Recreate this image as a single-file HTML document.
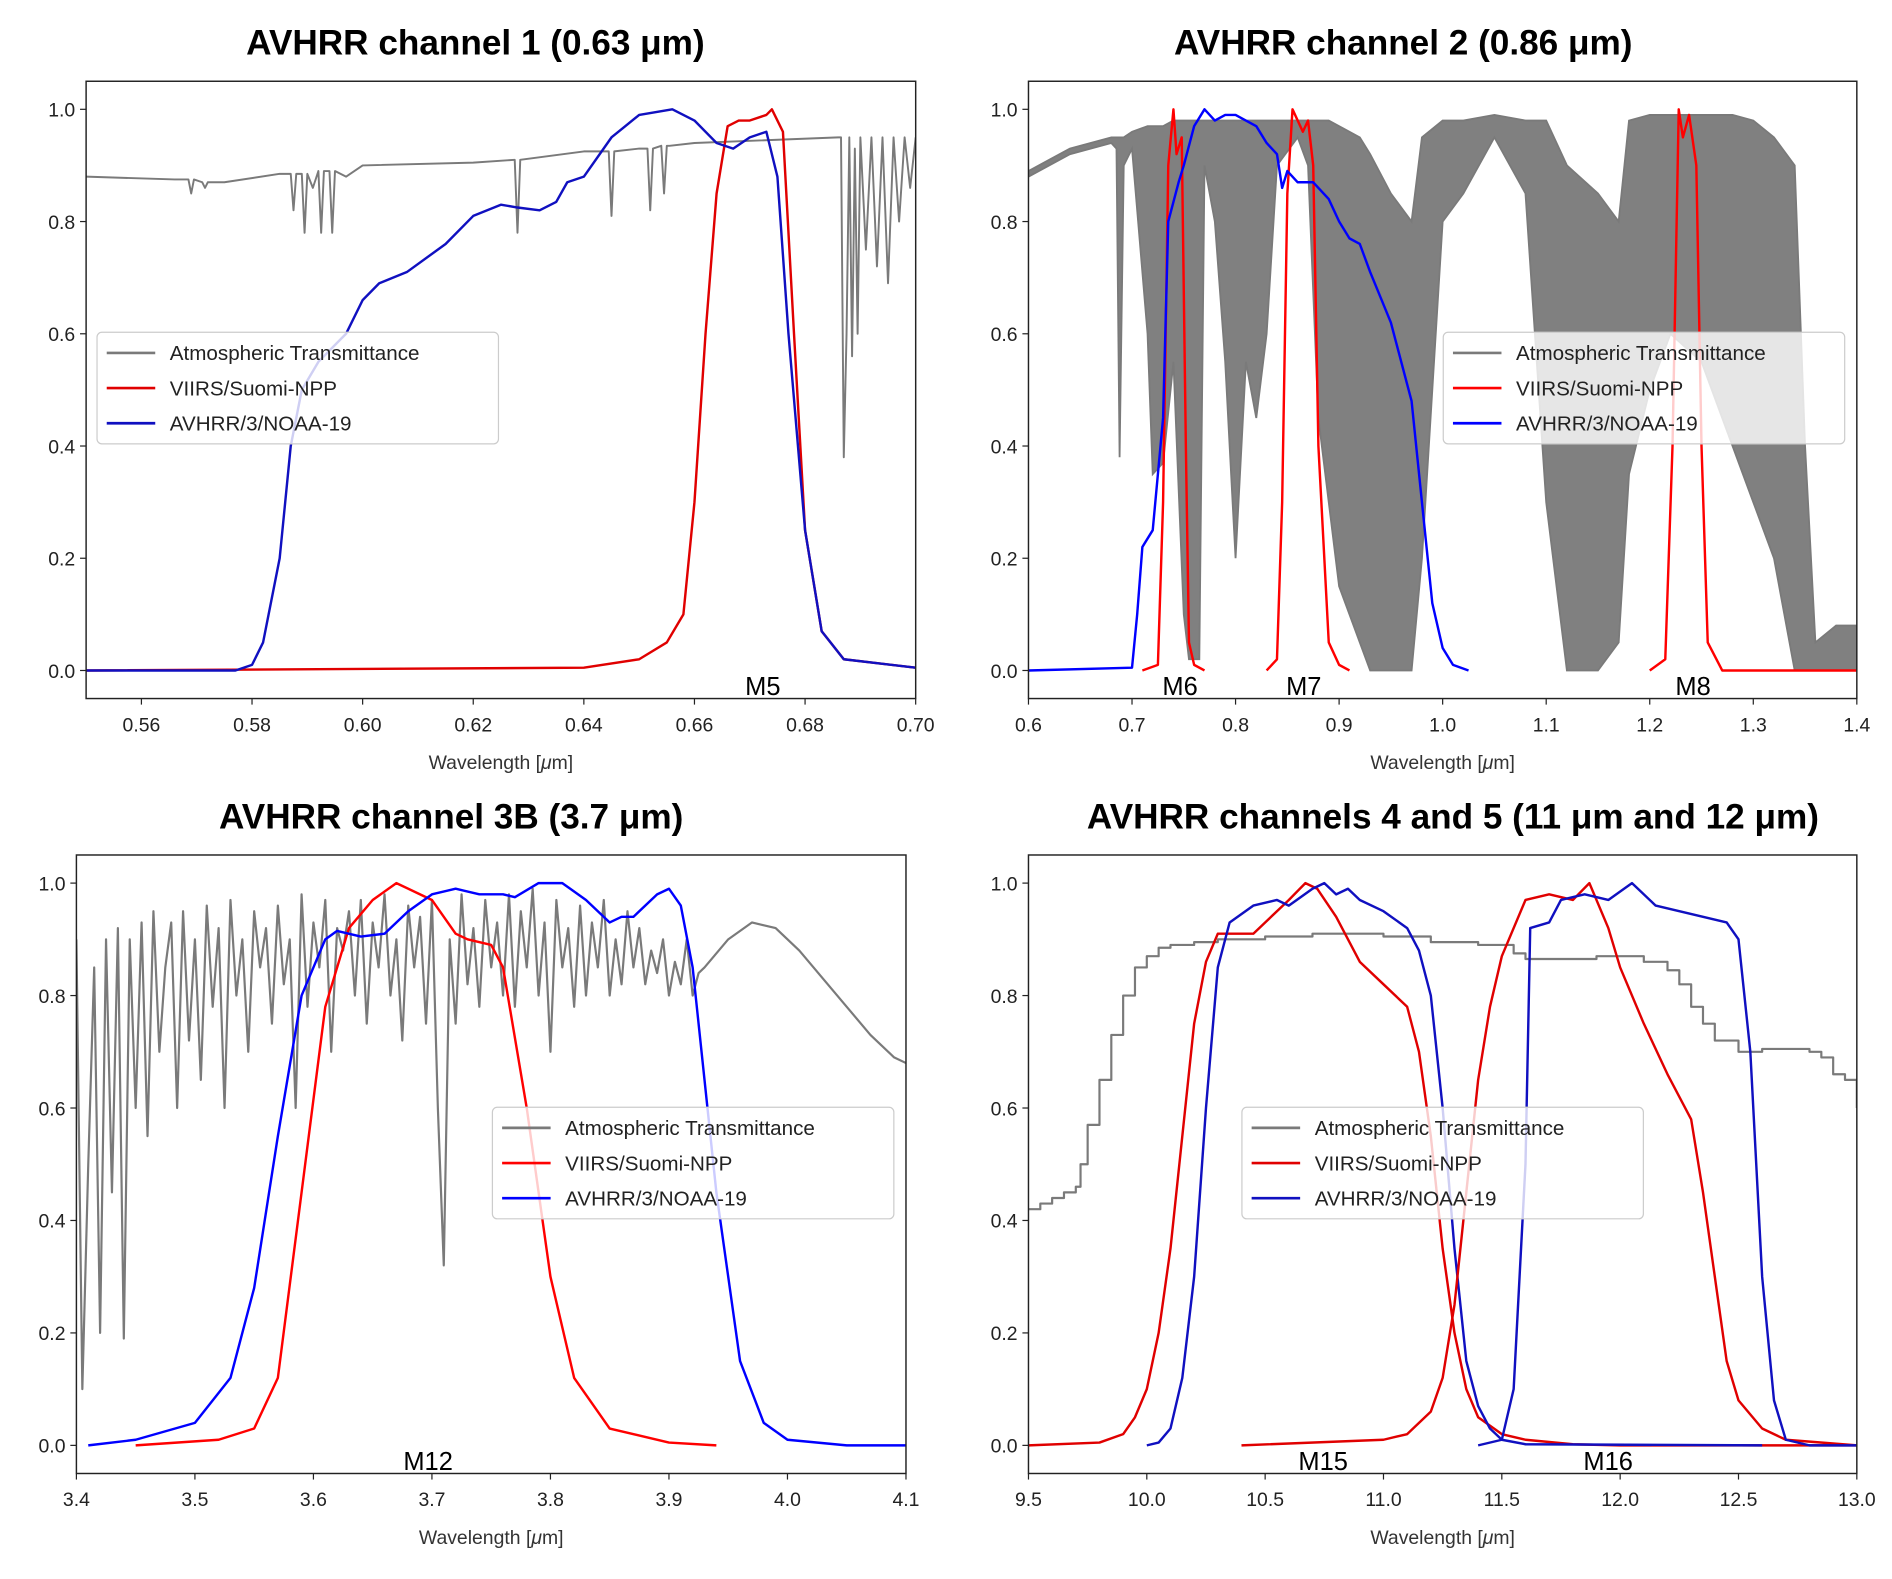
<!DOCTYPE html>
<html><head><meta charset="utf-8">
<style>
html,body{margin:0;padding:0;background:#fff}
svg{display:block}
text{font-family:"Liberation Sans",sans-serif}
</style></head>
<body>
<svg id="fig" xmlns="http://www.w3.org/2000/svg" width="1892" height="1579" viewBox="0 0 1560 1302" preserveAspectRatio="none"></svg>
<script>
// ---------- Panel 1 data ----------
const atm1X=[0.55,0.566,0.5685,0.569,0.5695,0.571,0.5715,0.572,0.575,0.585,0.587,0.5875,0.588,0.589,0.5895,0.590,0.591,0.592,0.5925,0.593,0.594,0.5945,0.595,0.597,0.600,0.62,0.6275,0.628,0.6285,0.640,0.6445,0.645,0.6455,0.650,0.6515,0.652,0.6525,0.654,0.6545,0.655,0.6555,0.660,0.686,0.6865,0.687,0.6875,0.688,0.6885,0.689,0.6895,0.690,0.691,0.692,0.693,0.694,0.695,0.696,0.697,0.698,0.699,0.700];
const atm1Y=[0.88,0.875,0.875,0.85,0.875,0.87,0.86,0.87,0.87,0.885,0.885,0.82,0.885,0.885,0.78,0.885,0.86,0.89,0.78,0.89,0.89,0.78,0.89,0.88,0.90,0.905,0.91,0.78,0.91,0.925,0.925,0.81,0.925,0.93,0.93,0.82,0.93,0.935,0.85,0.935,0.935,0.94,0.95,0.95,0.38,0.60,0.95,0.56,0.93,0.60,0.95,0.75,0.95,0.72,0.95,0.69,0.95,0.80,0.95,0.86,0.95];
const red1X=[0.55,0.64,0.65,0.655,0.658,0.660,0.662,0.664,0.666,0.668,0.670,0.673,0.674,0.676,0.678,0.680,0.683,0.687,0.70];
const red1Y=[0,0.005,0.02,0.05,0.1,0.3,0.6,0.85,0.97,0.98,0.98,0.99,1.0,0.96,0.6,0.25,0.07,0.02,0.005];
const blue1X=[0.55,0.577,0.580,0.582,0.585,0.587,0.589,0.592,0.597,0.600,0.603,0.608,0.615,0.620,0.625,0.628,0.632,0.635,0.637,0.640,0.645,0.650,0.656,0.660,0.664,0.667,0.670,0.673,0.675,0.677,0.680,0.683,0.687,0.70];
const blue1Y=[0,0,0.01,0.05,0.2,0.4,0.5,0.55,0.6,0.66,0.69,0.71,0.76,0.81,0.83,0.825,0.82,0.835,0.87,0.88,0.95,0.99,1.0,0.98,0.94,0.93,0.95,0.96,0.88,0.6,0.25,0.07,0.02,0.005];
// ---------- Panel 2 data ----------
const atm2X=[0.60,0.62,0.64,0.66,0.68,0.685,0.688,0.692,0.70,0.715,0.72,0.73,0.74,0.75,0.755,0.765,0.77,0.78,0.79,0.80,0.81,0.82,0.83,0.84,0.86,0.87,0.88,0.89,0.90,0.92,0.93,0.95,0.97,0.98,1.00,1.02,1.05,1.08,1.10,1.12,1.15,1.17,1.18,1.20,1.22,1.25,1.28,1.30,1.32,1.34,1.35,1.36,1.38,1.40];
const atm2Hi=[0.89,0.91,0.93,0.94,0.95,0.95,0.95,0.95,0.96,0.97,0.97,0.97,0.98,0.98,0.98,0.98,0.98,0.98,0.98,0.98,0.98,0.98,0.98,0.98,0.98,0.98,0.98,0.98,0.97,0.95,0.92,0.85,0.80,0.95,0.98,0.98,0.99,0.98,0.98,0.90,0.85,0.80,0.98,0.99,0.99,0.99,0.99,0.98,0.95,0.90,0.40,0.05,0.08,0.08];
const atm2Lo=[0.88,0.90,0.92,0.93,0.94,0.93,0.38,0.90,0.93,0.60,0.35,0.37,0.55,0.10,0.02,0.02,0.90,0.80,0.55,0.20,0.55,0.45,0.60,0.90,0.95,0.90,0.45,0.30,0.15,0.05,0.0,0.0,0.0,0.2,0.80,0.85,0.95,0.85,0.30,0.0,0.0,0.05,0.35,0.50,0.60,0.55,0.40,0.30,0.20,0.0,0.0,0.0,0.0,0.0];
const red2X=[0.71,0.725,0.73,0.735,0.74,0.743,0.748,0.752,0.755,0.76,0.77,null,0.83,0.84,0.845,0.85,0.855,0.865,0.87,0.875,0.88,0.89,0.90,0.91,null,1.20,1.215,1.222,1.228,1.232,1.238,1.245,1.25,1.256,1.27,1.40];
const red2Y=[0,0.01,0.3,0.9,1.0,0.92,0.95,0.4,0.05,0.01,0,null,0,0.02,0.3,0.85,1.0,0.96,0.98,0.9,0.4,0.05,0.01,0,null,0,0.02,0.4,1.0,0.95,0.99,0.9,0.4,0.05,0,0];
const blue2X=[0.60,0.70,0.705,0.71,0.72,0.73,0.735,0.745,0.75,0.76,0.77,0.78,0.79,0.80,0.81,0.82,0.83,0.84,0.845,0.85,0.86,0.875,0.89,0.90,0.91,0.92,0.93,0.95,0.96,0.97,0.98,0.99,1.00,1.01,1.025];
const blue2Y=[0,0.005,0.1,0.22,0.25,0.45,0.8,0.87,0.9,0.97,1.0,0.98,0.99,0.99,0.98,0.97,0.94,0.92,0.86,0.89,0.87,0.87,0.84,0.80,0.77,0.76,0.71,0.62,0.55,0.48,0.30,0.12,0.04,0.01,0];
// ---------- Panel 3 data ----------
const atm3X0=3.40, atm3Step=0.005;
const atm3Y=[0.9,0.1,0.5,0.85,0.2,0.9,0.45,0.92,0.19,0.9,0.6,0.93,0.55,0.95,0.7,0.85,0.93,0.6,0.95,0.72,0.9,0.65,0.96,0.78,0.92,0.6,0.97,0.8,0.9,0.7,0.95,0.85,0.92,0.75,0.96,0.82,0.9,0.6,0.98,0.78,0.93,0.85,0.97,0.7,0.92,0.88,0.95,0.8,0.97,0.75,0.93,0.85,0.98,0.8,0.9,0.72,0.96,0.85,0.94,0.75,0.97,0.6,0.32,0.9,0.75,0.98,0.82,0.92,0.78,0.97,0.85,0.93,0.8,0.98,0.78,0.95,0.85,0.99,0.8,0.93,0.7,0.97,0.85,0.92,0.78,0.96,0.8,0.93,0.85,0.97,0.8,0.9,0.82,0.95,0.85,0.92,0.82,0.88,0.84,0.9,0.8,0.86,0.82,0.9,0.8,0.84];
const atm3TailX=[3.93,3.95,3.97,3.99,4.01,4.03,4.05,4.07,4.09,4.10];
const atm3TailY=[0.85,0.9,0.93,0.92,0.88,0.83,0.78,0.73,0.69,0.68];
const red3X=[3.45,3.52,3.55,3.57,3.59,3.61,3.63,3.65,3.67,3.69,3.70,3.72,3.73,3.75,3.76,3.78,3.80,3.82,3.85,3.90,3.94];
const red3Y=[0,0.01,0.03,0.12,0.45,0.78,0.92,0.97,1.0,0.98,0.97,0.91,0.90,0.89,0.85,0.60,0.30,0.12,0.03,0.005,0];
const blue3X=[3.41,3.45,3.50,3.53,3.55,3.57,3.59,3.61,3.62,3.64,3.66,3.68,3.70,3.72,3.74,3.76,3.77,3.79,3.81,3.83,3.85,3.86,3.87,3.89,3.90,3.91,3.92,3.94,3.96,3.98,4.00,4.05,4.10];
const blue3Y=[0,0.01,0.04,0.12,0.28,0.55,0.80,0.90,0.915,0.905,0.91,0.95,0.98,0.99,0.98,0.98,0.975,1.0,1.0,0.97,0.93,0.94,0.94,0.98,0.99,0.96,0.85,0.45,0.15,0.04,0.01,0,0];
// ---------- Panel 4 data ----------
const atm4X=[9.5,9.55,9.6,9.65,9.7,9.72,9.75,9.8,9.85,9.9,9.95,10.0,10.05,10.1,10.2,10.3,10.5,10.7,11.0,11.2,11.4,11.55,11.6,11.8,11.9,12.1,12.2,12.25,12.3,12.35,12.4,12.5,12.6,12.8,12.85,12.9,12.95,13.0];
const atm4Y=[0.42,0.43,0.44,0.45,0.46,0.50,0.57,0.65,0.73,0.80,0.85,0.87,0.885,0.89,0.895,0.90,0.905,0.91,0.905,0.895,0.89,0.875,0.865,0.865,0.87,0.86,0.845,0.82,0.78,0.75,0.72,0.70,0.705,0.70,0.69,0.66,0.65,0.60];
const red4aX=[9.5,9.8,9.9,9.95,10.0,10.05,10.1,10.15,10.2,10.25,10.3,10.45,10.5,10.6,10.67,10.72,10.8,10.9,11.0,11.1,11.15,11.2,11.25,11.3,11.35,11.4,11.5,11.6,11.8,12.0,13.0];
const red4aY=[0,0.005,0.02,0.05,0.1,0.2,0.35,0.55,0.75,0.86,0.91,0.91,0.93,0.97,1.0,0.99,0.94,0.86,0.82,0.78,0.7,0.55,0.35,0.2,0.1,0.05,0.02,0.01,0.002,0,0];
const blue4aX=[10.0,10.05,10.1,10.15,10.2,10.25,10.3,10.35,10.45,10.55,10.6,10.7,10.75,10.8,10.85,10.9,11.0,11.1,11.15,11.2,11.25,11.3,11.35,11.4,11.45,11.5,11.6,12.6];
const blue4aY=[0,0.005,0.03,0.12,0.3,0.6,0.85,0.93,0.96,0.97,0.96,0.99,1.0,0.98,0.99,0.97,0.95,0.92,0.88,0.8,0.6,0.35,0.15,0.07,0.03,0.01,0.002,0];
const red4bX=[10.4,11.0,11.1,11.2,11.25,11.3,11.35,11.4,11.45,11.5,11.6,11.7,11.8,11.87,11.95,12.0,12.1,12.2,12.3,12.35,12.4,12.45,12.5,12.6,12.7,13.0];
const red4bY=[0,0.01,0.02,0.06,0.12,0.25,0.45,0.65,0.78,0.87,0.97,0.98,0.97,1.0,0.92,0.85,0.75,0.66,0.58,0.45,0.3,0.15,0.08,0.03,0.01,0];
const blue4bX=[11.4,11.5,11.55,11.6,11.62,11.7,11.75,11.85,11.95,12.05,12.15,12.25,12.35,12.45,12.5,12.55,12.6,12.65,12.7,12.8,13.0];
const blue4bY=[0,0.01,0.1,0.5,0.92,0.93,0.97,0.98,0.97,1.0,0.96,0.95,0.94,0.93,0.90,0.7,0.3,0.08,0.01,0,0];
// ---------- tick labels ----------
const yTicks=[0.0,0.2,0.4,0.6,0.8,1.0];
const xTicks1=[0.56,0.58,0.60,0.62,0.64,0.66,0.68,0.70];
const xTicks2=[0.6,0.7,0.8,0.9,1.0,1.1,1.2,1.3,1.4];
const xTicks3=[3.4,3.5,3.6,3.7,3.8,3.9,4.0,4.1];
const xTicks4=[9.5,10.0,10.5,11.0,11.5,12.0,12.5,13.0];

const NS="http://www.w3.org/2000/svg";
const svg=document.getElementById('fig');
function mk(tag,attrs,parent){const e=document.createElementNS(NS,tag);for(const k in attrs)e.setAttribute(k,attrs[k]);(parent||svg).appendChild(e);return e;}

function panel(o){
  const g=mk('g',{});
  
  
  const X=v=>o.L+(v-o.x0)/(o.x1-o.x0)*(o.R-o.L);
  const Y=v=>o.B-(v+0.05)/1.1*(o.B-o.T);
  const cp=mk('clipPath',{id:o.name+'-clip'},g);
  mk('rect',{x:o.L,y:o.T,width:o.R-o.L,height:o.B-o.T},cp);
  const plot=mk('g',{'clip-path':'url(#'+o.name+'-clip)'},g);
  function line(xs,ys,color,w,name,step){
    let d='',pen=false,prevY=null;
    for(let i=0;i<xs.length;i++){
      if(xs[i]===null){pen=false;continue;}
      const px=X(xs[i]).toFixed(2),py=Y(ys[i]).toFixed(2);
      if(!pen){d+='M'+px+' '+py;pen=true;}
      else{ if(step) d+='L'+px+' '+prevY; d+='L'+px+' '+py;}
      prevY=py;
    }
    const p=mk('path',{d:d,fill:'none',stroke:color,'stroke-width':w,'stroke-linejoin':'round'},plot);
    
    
  }
  o.draw(line,X,Y,plot);
  const fr=mk('rect',{x:o.L,y:o.T,width:o.R-o.L,height:o.B-o.T,fill:'none',stroke:'#222','stroke-width':1.2},g);
  
  
  yTicks.forEach(t=>{
    const y=Y(t);
    mk('line',{x1:o.L-5,x2:o.L,y1:y,y2:y,stroke:'#222','stroke-width':1},g);
    const tx=mk('text',{x:o.L-9,y:y+6,'text-anchor':'end','font-size':16,fill:'#222'},g);
    tx.textContent=t.toFixed(1);
    
    
  });
  o.xt.forEach(t=>{
    const x=X(t);
    mk('line',{x1:x,x2:x,y1:o.B,y2:o.B+5,stroke:'#222','stroke-width':1},g);
    const tx=mk('text',{x:x,y:o.B+27,'text-anchor':'middle','font-size':16,fill:'#222'},g);
    tx.textContent=t.toFixed(o.dec);
    
    
  });
  const xl=mk('text',{x:(o.L+o.R)/2,y:o.B+58,'text-anchor':'middle','font-size':16,fill:'#333'},g);
  xl.innerHTML='Wavelength [<tspan font-style="italic">μ</tspan>m]';
  
  
  const ti=mk('text',{x:o.tx,y:o.T-22,'text-anchor':'middle','font-size':29,'font-weight':'bold',fill:'#000'},g);
  ti.textContent=o.title;
  
  
  o.bands.forEach(b=>{
    const t=mk('text',{x:b[1],y:o.B-3,'text-anchor':'middle','font-size':21,fill:'#000'},g);
    t.textContent=b[0];
    
    
  });
  const lg=mk('g',{},g);
  
  
  mk('rect',{x:o.lx,y:o.ly,width:331,height:92,rx:4,fill:'rgba(255,255,255,0.8)',stroke:'#ccc','stroke-width':1},lg);
  const ent=[['Atmospheric Transmittance','#7a7a7a'],['VIIRS/Suomi-NPP',o.red],['AVHRR/3/NOAA-19',o.blue]];
  ent.forEach((e,i)=>{
    const y=o.ly+17+i*29;
    mk('line',{x1:o.lx+8,x2:o.lx+48,y1:y,y2:y,stroke:e[1],'stroke-width':2.2},lg);
    const t=mk('text',{x:o.lx+60,y:y+6,'font-size':17,fill:'#222'},lg);
    t.textContent=e[0];
    
    
  });
}

panel({name:'panel-ch1',L:71,R:755,T:67,B:576,x0:0.55,x1:0.70,xt:xTicks1,dec:2,title:'AVHRR channel 1 (0.63 μm)',tx:392,
  bands:[['M5',629]],lx:80,ly:274,red:'#e00000',blue:'#1010c0',
  draw:(line)=>{line(atm1X,atm1Y,'#7a7a7a',1.6,'atmospheric-transmittance');line(red1X,red1Y,'#e00000',2,'viirs-response');line(blue1X,blue1Y,'#1010c0',2,'avhrr-response');}});

panel({name:'panel-ch2',L:848,R:1531,T:67,B:576,x0:0.6,x1:1.4,xt:xTicks2,dec:1,title:'AVHRR channel 2 (0.86 μm)',tx:1157,
  bands:[['M6',973],['M7',1075],['M8',1396]],lx:1190,ly:274,red:'#ff0000',blue:'#0000ff',
  draw:(line,X,Y,plot)=>{
    let d='M'+X(atm2X[0])+' '+Y(atm2Hi[0]);
    for(let i=1;i<atm2X.length;i++) d+='L'+X(atm2X[i])+' '+Y(atm2Hi[i]);
    for(let i=atm2X.length-1;i>=0;i--) d+='L'+X(atm2X[i])+' '+Y(atm2Lo[i]);
    const p=mk('path',{d:d+'Z',fill:'#808080',stroke:'#7a7a7a','stroke-width':1.5},plot);
    
    
    line(red2X,red2Y,'#ff0000',2,'viirs-response');line(blue2X,blue2Y,'#0000ff',2,'avhrr-response');}});

panel({name:'panel-ch3b',L:63,R:747,T:705,B:1215,x0:3.4,x1:4.1,xt:xTicks3,dec:1,title:'AVHRR channel 3B (3.7 μm)',tx:372,
  bands:[['M12',353]],lx:406,ly:913,red:'#ff0000',blue:'#0000ff',
  draw:(line)=>{
    const xs=atm3Y.map((v,i)=>atm3X0+i*atm3Step).concat(atm3TailX);
    const ys=atm3Y.concat(atm3TailY);
    line(xs,ys,'#7a7a7a',1.8,'atmospheric-transmittance');
    line(red3X,red3Y,'#ff0000',2,'viirs-response');line(blue3X,blue3Y,'#0000ff',2,'avhrr-response');}});

panel({name:'panel-ch4-5',L:848,R:1531,T:705,B:1215,x0:9.5,x1:13.0,xt:xTicks4,dec:1,title:'AVHRR channels 4 and 5 (11 μm and 12 μm)',tx:1198,
  bands:[['M15',1091],['M16',1326]],lx:1024,ly:913,red:'#e00000',blue:'#1010c0',
  draw:(line)=>{
    line(atm4X,atm4Y,'#7a7a7a',1.8,'atmospheric-transmittance',true);
    line(red4aX,red4aY,'#e00000',2,'viirs-m15-response');line(blue4aX,blue4aY,'#1010c0',2,'avhrr-ch4-response');
    line(red4bX,red4bY,'#e00000',2,'viirs-m16-response');line(blue4bX,blue4bY,'#1010c0',2,'avhrr-ch5-response');}});
</script>
</body></html>
